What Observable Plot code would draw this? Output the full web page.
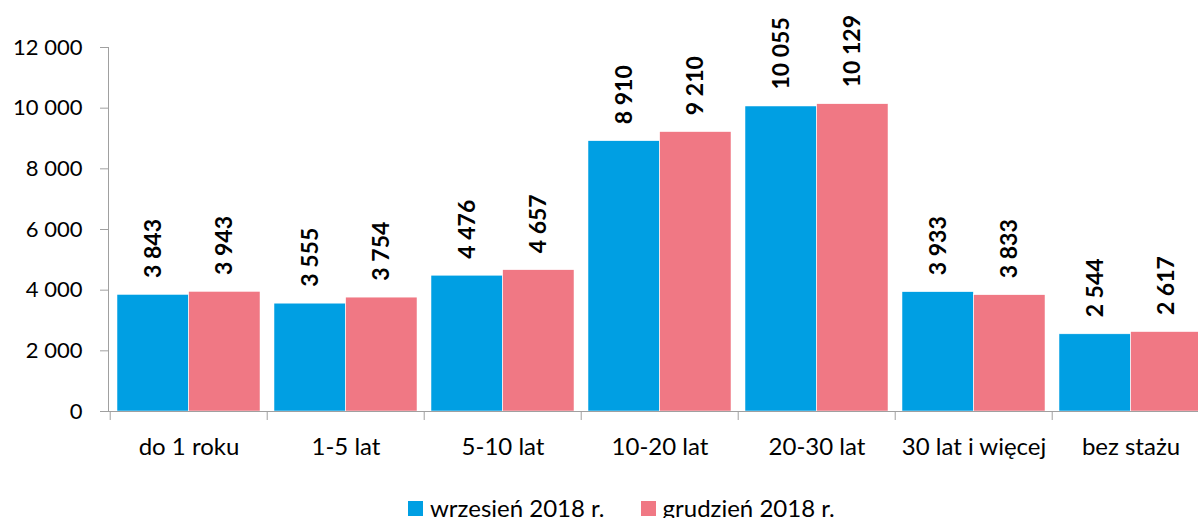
<!DOCTYPE html>
<html>
<head>
<meta charset="utf-8">
<script src="https://cdn.jsdelivr.net/npm/d3@7"></script>
<script src="https://cdn.jsdelivr.net/npm/@observablehq/plot@0.6"></script>
<style>
  html, body { margin: 0; padding: 0; background: #fff; overflow: hidden; }
  body { width: 1198px; height: 518px; position: relative; font-family: Lato, "Open Sans", sans-serif; }
  #chart svg { overflow: hidden; }
  .legend { position: absolute; top: 496px; left: 408px; display: flex; align-items: center; font-size: 24px; line-height: 24px; color: #000; white-space: nowrap; }
  .legend .item { display: flex; align-items: center; }
  .legend .sw { width: 15px; height: 15px; margin-right: 7px; }
</style>
</head>
<body>
<div id="chart"></div>
<div class="legend" id="legend"></div>
<script>
const categories = ["do 1 roku", "1-5 lat", "5-10 lat", "10-20 lat", "20-30 lat", "30 lat i więcej", "bez stażu"];
const wrzesien = [3843, 3555, 4476, 8910, 10055, 3933, 2544];
const grudzien = [3943, 3754, 4657, 9210, 10129, 3833, 2617];
const seriesNames = ["wrzesień 2018 r.", "grudzień 2018 r."];
const seriesColors = ["#009FE3", "#F07884"];
const yTicks = [0, 2000, 4000, 6000, 8000, 10000, 12000];

const W = 1198, H = 470;
const marginLeft = 108, marginRight = -13, marginTop = 47, marginBottom = 59;
const step = (W - marginRight - marginLeft) / categories.length;
const pad = 0.09;
const bw = step * (1 - pad);

const fmt = d3.formatLocale({decimal: ",", thousands: " ", grouping: [3], currency: ["", ""]}).format(",d");

const blue = categories.map((c, i) => ({cat: c, value: wrzesien[i]}));
const pink = categories.map((c, i) => ({cat: c, value: grudzien[i]}));

const axisColor = "#A0A0A0";

const plot = Plot.plot({
  width: W, height: H,
  marginLeft, marginRight, marginTop, marginBottom,
  style: {fontFamily: "Lato, 'Open Sans', sans-serif", fontSize: "22px", color: "#000", background: "#fff"},
  x: {domain: categories, paddingInner: pad, paddingOuter: pad / 2, axis: null, label: null},
  y: {domain: [0, 12000], axis: null, label: null},
  marks: [
    Plot.barY(blue, {x: "cat", y: "value", fill: seriesColors[0], insetRight: bw / 2, stroke: "#fff", strokeWidth: 0.5}),
    Plot.barY(pink, {x: "cat", y: "value", fill: seriesColors[1], insetLeft: bw / 2, stroke: "#fff", strokeWidth: 0.5}),
    Plot.text(blue, {x: "cat", y: "value", text: d => fmt(d.value), rotate: -90, textAnchor: "start", lineAnchor: "middle", dx: -bw / 4, dy: -17, fontWeight: "bold", fontSize: 23, fill: "#000"}),
    Plot.text(pink, {x: "cat", y: "value", text: d => fmt(d.value), rotate: -90, textAnchor: "start", lineAnchor: "middle", dx: bw / 4, dy: -17, fontWeight: "bold", fontSize: 23, fill: "#000"}),
    Plot.axisY({ticks: yTicks, tickFormat: fmt, tickSize: 8, tickPadding: 18, stroke: axisColor, fill: "#000", fontSize: 22, label: null}),
    Plot.axisX({ticks: categories, tickSize: 9, tickFormat: () => "", dx: -step / 2, stroke: axisColor, label: null}),
    Plot.axisX({ticks: categories, tickSize: 0, tickPadding: 26, fill: "#000", fontSize: 24, label: null}),
    Plot.frame({anchor: "left", stroke: axisColor}),
    Plot.ruleY([0], {stroke: axisColor})
  ]
});
document.getElementById("chart").appendChild(plot);

const legend = document.getElementById("legend");
seriesNames.forEach((name, i) => {
  const item = document.createElement("div");
  item.className = "item";
  if (i === 0) item.style.marginRight = "36px";
  const sw = document.createElement("span");
  sw.className = "sw";
  sw.style.background = seriesColors[i];
  const t = document.createElement("span");
  t.textContent = name;
  item.appendChild(sw);
  item.appendChild(t);
  legend.appendChild(item);
});
</script>
</body>
</html>
